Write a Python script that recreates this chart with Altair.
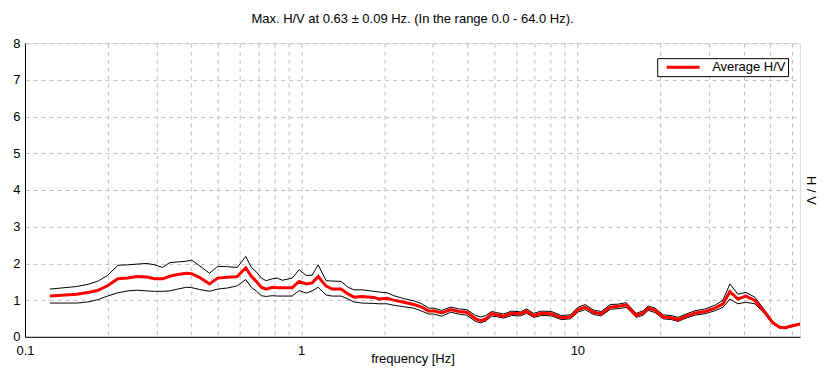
import altair as alt
import pandas as pd

freq = [0.123, 0.154, 0.169, 0.183, 0.199, 0.217, 0.235, 0.254, 0.276, 0.295,
        0.315, 0.334, 0.357, 0.384, 0.401, 0.428, 0.466, 0.498, 0.541, 0.587,
        0.63, 0.66, 0.69, 0.717, 0.747, 0.786, 0.82, 0.854, 0.928, 0.983,
        1.043, 1.096, 1.152, 1.231, 1.294, 1.394, 1.478, 1.553, 1.661, 1.834,
        1.912, 2.044, 2.166, 2.353, 2.558, 2.734, 2.899, 3.022, 3.228, 3.479,
        3.719, 3.974, 4.283, 4.467, 4.656, 4.894, 5.102, 5.408, 5.778, 6.227,
        6.546, 6.939, 7.413, 8.056, 8.754, 9.434, 10.08, 10.68, 11.42, 12.21,
        13.16, 14.06, 15.03, 16.33, 17.31, 18.05, 19.12, 20.44, 21.85, 23.15,
        24.74, 26.67, 28.99, 31.50, 33.67, 35.67, 38.13, 40.75, 43.92, 47.72,
        51.00, 54.08, 56.83, 59.25, 64.0]

avg = [1.11, 1.16, 1.21, 1.26, 1.39, 1.58, 1.60, 1.64, 1.63, 1.58,
       1.58, 1.65, 1.70, 1.73, 1.72, 1.62, 1.44, 1.60, 1.62, 1.64,
       1.88, 1.65, 1.50, 1.35, 1.30, 1.35, 1.34, 1.34, 1.34, 1.51,
       1.44, 1.47, 1.64, 1.38, 1.30, 1.30, 1.17, 1.08, 1.10, 1.07,
       1.03, 1.05, 1.00, 0.94, 0.88, 0.81, 0.70, 0.71, 0.65, 0.74,
       0.69, 0.67, 0.49, 0.44, 0.49, 0.63, 0.60, 0.56, 0.64, 0.63,
       0.70, 0.58, 0.64, 0.63, 0.52, 0.54, 0.74, 0.81, 0.67, 0.63,
       0.81, 0.83, 0.87, 0.58, 0.65, 0.78, 0.72, 0.54, 0.52, 0.47,
       0.56, 0.65, 0.69, 0.78, 0.90, 1.23, 1.03, 1.11, 0.99, 0.67,
       0.38, 0.26, 0.25, 0.29, 0.35]

upper = [1.30, 1.37, 1.43, 1.51, 1.67, 1.95, 1.96, 1.98, 2.00, 1.96,
         1.89, 2.02, 2.04, 2.06, 2.09, 1.94, 1.73, 1.92, 1.91, 1.89,
         2.19, 1.89, 1.76, 1.60, 1.53, 1.58, 1.60, 1.54, 1.60, 1.83,
         1.67, 1.68, 1.96, 1.53, 1.52, 1.51, 1.35, 1.28, 1.28, 1.24,
         1.22, 1.20, 1.12, 1.04, 0.98, 0.90, 0.78, 0.78, 0.72, 0.81,
         0.76, 0.74, 0.58, 0.54, 0.58, 0.69, 0.66, 0.62, 0.70, 0.68,
         0.76, 0.64, 0.70, 0.69, 0.58, 0.60, 0.81, 0.88, 0.73, 0.69,
         0.88, 0.89, 0.93, 0.64, 0.71, 0.84, 0.78, 0.60, 0.58, 0.53,
         0.62, 0.71, 0.76, 0.86, 1.00, 1.44, 1.16, 1.21, 1.08, 0.72,
         0.42, 0.28, 0.27, 0.31, 0.37]

lower = [0.92, 0.92, 0.95, 1.01, 1.11, 1.20, 1.25, 1.27, 1.25, 1.24,
         1.24, 1.25, 1.30, 1.35, 1.34, 1.29, 1.24, 1.30, 1.33, 1.39,
         1.56, 1.35, 1.24, 1.12, 1.10, 1.12, 1.11, 1.11, 1.11, 1.26,
         1.19, 1.25, 1.35, 1.14, 1.11, 1.11, 1.03, 0.95, 0.92, 0.91,
         0.90, 0.90, 0.86, 0.82, 0.78, 0.70, 0.62, 0.62, 0.56, 0.67,
         0.62, 0.59, 0.42, 0.38, 0.43, 0.56, 0.55, 0.51, 0.58, 0.57,
         0.64, 0.53, 0.58, 0.57, 0.47, 0.49, 0.68, 0.74, 0.61, 0.57,
         0.75, 0.77, 0.80, 0.53, 0.59, 0.72, 0.66, 0.49, 0.47, 0.42,
         0.51, 0.59, 0.63, 0.71, 0.80, 1.03, 0.90, 0.94, 0.90, 0.62,
         0.35, 0.24, 0.23, 0.27, 0.33]

series_name = "Average H/V"
x_grid_values = [0.1, 0.2, 0.3, 0.4, 0.5, 0.6, 0.7, 0.8, 0.9,
                 1, 2, 3, 4, 5, 6, 7, 8, 9,
                 10, 20, 30, 40, 50, 60]
x_label_values = [0.1, 1, 10]
y_values = [0, 1, 2, 3, 4, 5, 6, 7, 8]
title_text = "Max. H/V at 0.63 \u00b1 0.09 Hz. (In the range 0.0 - 64.0 Hz)."

df = pd.DataFrame({"freq": freq, "avg": avg, "upper": upper, "lower": lower})
df["series"] = series_name

FONT = "Liberation Sans"
GRID = dict(grid=True, gridColor="#bdbdbd", gridDash=[4, 4], gridWidth=1,
            ticks=False, domainColor="black", labelFlush=False,
            labelFont=FONT, labelFontSize=13, labelColor="black",
            titleFont=FONT, titleFontSize=13, titleFontWeight="normal",
            titleColor="black")

x_enc = alt.X(
    "freq:Q",
    scale=alt.Scale(type="log", domain=[0.1, 64], nice=False),
    axis=alt.Axis(
        values=x_grid_values,
        labelExpr="indexof([0.1, 1, 10], datum.value) >= 0 ? datum.label : ''",
        format="~g",
        labelOverlap=False,
        title="frequency [Hz]",
        titleY=22,
        titleBaseline="middle",
        labelPadding=8,
        **GRID,
    ),
)

y_axis = alt.Axis(
    values=y_values,
    title="H / V",
    titleAngle=90,
    titleX=786,
    titleY=147,
    titleAlign="center",
    titleBaseline="middle",
    labelPadding=5,
    **GRID,
)
y_scale = alt.Scale(domain=[0, 8], nice=False)

base = alt.Chart(df)

upper_line = base.mark_line(color="black", strokeWidth=1).encode(
    x=x_enc, y=alt.Y("upper:Q", scale=y_scale, axis=y_axis)
)
lower_line = base.mark_line(color="black", strokeWidth=1).encode(
    x=x_enc, y=alt.Y("lower:Q", scale=y_scale, axis=y_axis)
)
avg_line = base.mark_line(strokeWidth=3).encode(
    x=x_enc,
    y=alt.Y("avg:Q", scale=y_scale, axis=y_axis),
    color=alt.Color(
        "series:N",
        scale=alt.Scale(domain=[series_name], range=["#ff0000"]),
        legend=alt.Legend(
            title=None,
            orient="none",
            legendX=633,
            legendY=15,
            fillColor="white",
            strokeColor="black",
            padding=2,
            symbolType="M-1,0H5",
            symbolSize=121,
            symbolStrokeWidth=3,
            symbolOffset=6,
            labelOffset=33,
            labelFont=FONT,
            labelFontSize=13,
            labelColor="black",
        ),
    ),
)

chart = (
    alt.layer(upper_line, lower_line, avg_line)
    .properties(
        width=776,
        height=294,
        autosize=alt.AutoSizeParams(type="none"),
        padding={"left": 17, "top": 35, "right": 18, "bottom": 30},
        title=alt.TitleParams(
            title_text, font=FONT, fontSize=13, fontWeight="normal",
            color="black", anchor="middle", offset=11,
        ),
    )
    .configure_view(stroke="black", strokeWidth=1)
    .configure(background="white")
)

chart.save("out.html", embed_options={"renderer": "svg", "actions": False})
